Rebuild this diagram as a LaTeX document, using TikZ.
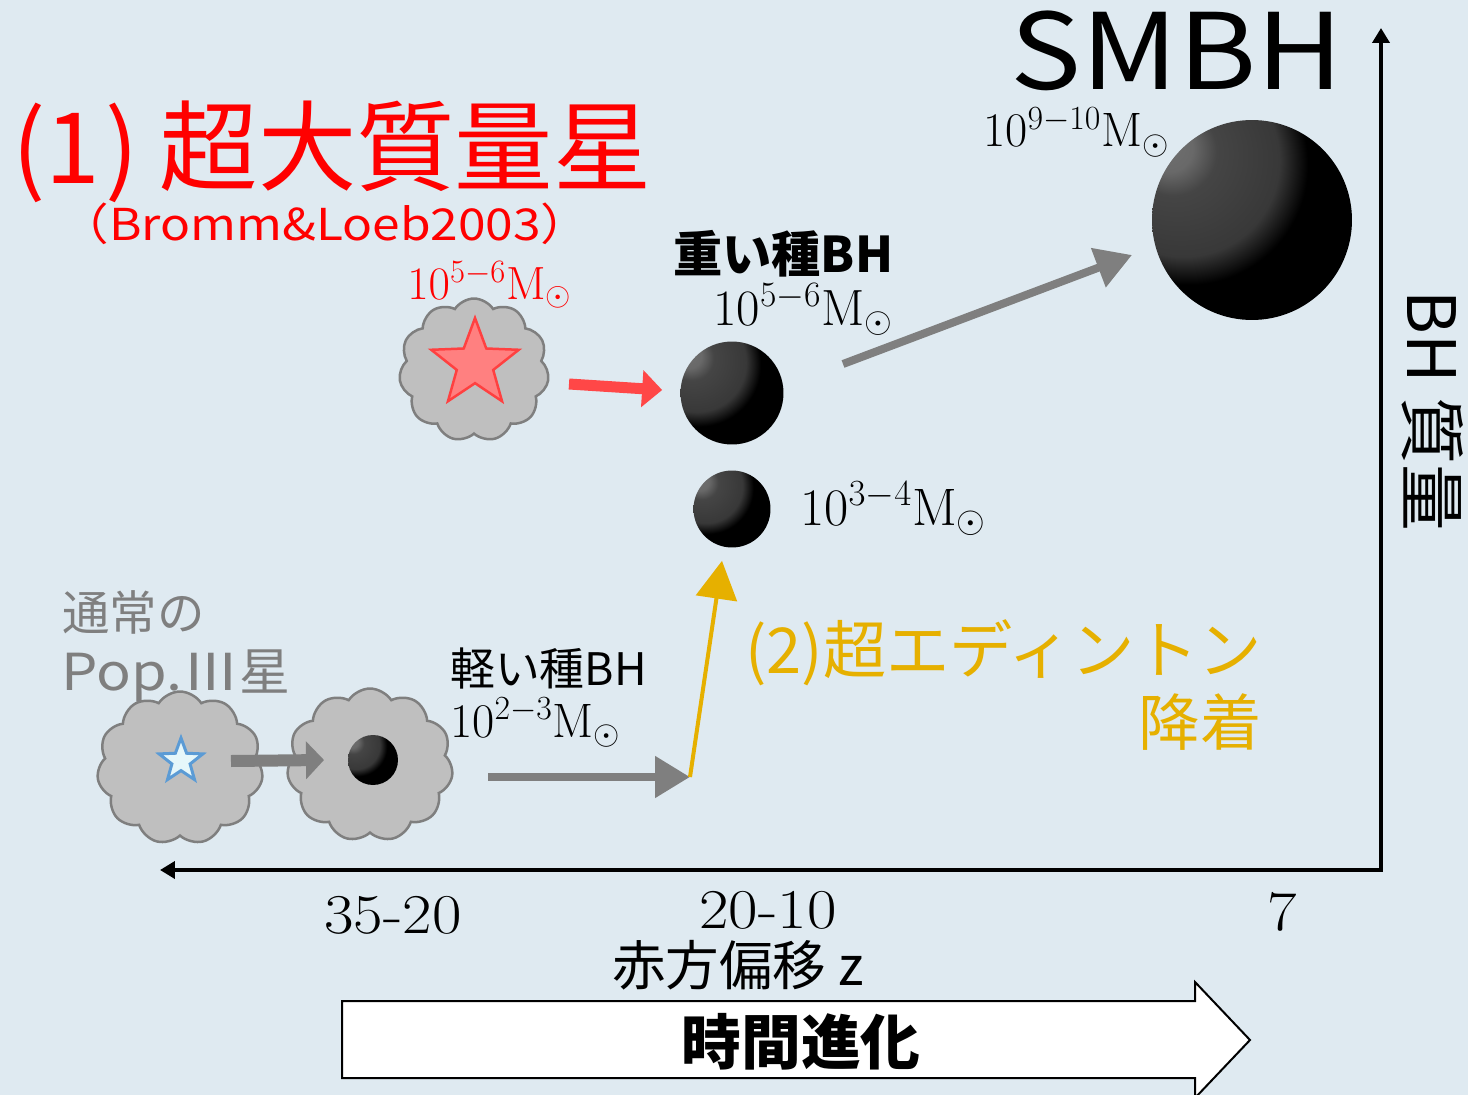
\RequirePackage{fix-cm}
\documentclass[tikz,border=0pt]{standalone}
\usepackage{fontspec}
\newfontfamily\jp{Noto Sans CJK JP}
\newfontfamily\jpw[FakeStretch=1.13]{Noto Sans CJK JP}
\newfontfamily\zfont[FakeStretch=1.14]{Latin Modern Roman}
\usetikzlibrary{calc}
\usetikzlibrary{shapes}
\usetikzlibrary{arrows.meta}

\newcommand\fsz[1]{\fontsize{#1}{#1}\selectfont}

\definecolor{bgblue}{RGB}{223,234,241}
\definecolor{cloudgray}{RGB}{191,191,191}
\definecolor{linegray}{RGB}{127,127,127}
\definecolor{accgold}{RGB}{230,176,0}
\definecolor{starred}{RGB}{255,128,128}
\definecolor{starline}{RGB}{255,64,64}
\definecolor{arrowred}{RGB}{255,71,71}
\definecolor{starblue}{RGB}{91,155,213}
\definecolor{starfill}{RGB}{230,247,250}

% black hole: dark ball, soft grey spot up left
\pgfdeclareradialshading{bhball}{\pgfpoint{-22bp}{19bp}}{%
  color(0bp)=(black!56); color(6bp)=(black!59); color(11bp)=(black!73);
  color(24bp)=(black!78); color(30bp)=(black); color(110bp)=(black)}

\tikzset{
  gascloud/.style={shape=cloud, cloud puffs=11, cloud puff arc=115, aspect=1.05,
    fill=cloudgray, draw=linegray, line width=0.05cm, inner sep=0,
    minimum width=3.32cm, minimum height=3.06cm},
  seedbh/.style={circle, inner sep=0, shade, shading=bhball},
  lbl/.style={inner sep=0},
  axis/.style={line width=0.08cm,
    {Triangle[length=0.3cm,width=0.34cm]}-{Triangle[length=0.3cm,width=0.34cm]}},
  grayarrow/.style={draw=linegray, line width=0.16cm,
    -{Triangle[length=0.72cm,width=0.8cm]}},
}

\begin{document}
\begin{tikzpicture}[x=0.02cm, y=-0.02cm]
\useasboundingbox (0,0) rectangle (1468,1095);
\fill[bgblue] (0,0) rectangle (1468,1095);

% axes: redshift to the left, mass up
\coordinate (origin) at (1381,870);
\coordinate (zend) at (160,870);
\coordinate (mend) at (1381,28);
\draw[axis] (zend) -- (origin) -- (mend);

% gas clouds
\node[gascloud] (cloudA) at (180,768) {};
\node[gascloud] (cloudB) at (370,765) {};
\node[gascloud, minimum width=3cm, minimum height=2.86cm] (cloudR) at (474,370) {};

% stars
\node[star, star points=5, star point ratio=2.4, minimum size=1.84cm, inner sep=0,
      fill=starred, draw=starline, line width=0.05cm] (starR) at (475,364) {};
\node[star, star points=5, star point ratio=2.4, minimum size=0.92cm, inner sep=0,
      fill=starfill, draw=starblue, line width=0.06cm] (starA) at (181,761) {};

% black holes
\node[seedbh, minimum size=1cm] (bhL) at (373,760) {};
\node[seedbh, minimum size=2.06cm] (bhH) at (732,393) {};
\node[seedbh, minimum size=1.54cm] (bhM) at (732,509) {};
\node[seedbh, minimum size=4cm] (smbh) at (1252,220) {};

% growth paths
\coordinate (turn) at (690,777);
\draw[draw=linegray, line width=0.24cm, -{Triangle[length=0.36cm,width=0.74cm]}]
  ([xshift=1cm]starA.center) -- ([xshift=-0.98cm]bhL.center);
\draw[grayarrow, -{Triangle[length=0.7cm,width=0.8cm]}] ($(turn)+(-202,0)$) -- (turn);
\draw[draw=accgold, line width=0.08cm, -{Triangle[length=0.76cm,width=0.82cm]}]
  (turn) -- ($(bhM.south)+(-10,13)$);
\draw[draw=arrowred, line width=0.22cm, -{Triangle[length=0.4cm,width=0.72cm]}]
  ($(starR)+(94,20)$) -- ($(bhH.west)+(-18,-3)$);
\draw[grayarrow] ($(bhH)+(111,-29)$) -- ($(smbh)+(-120,35)$);

% labels
\node[lbl, text=red, font=\jp\fsz{56}, anchor=base west] (title) at (12,183) {(1\kern3pt)\kern12pt超大質量星};
\node[lbl, text=red, font=\jpw\fsz{25}, anchor=base] (ref) at (325,240) {（Bromm\&Loeb2003）};
\node[lbl, text=red, font=\fsz{26.5}, anchor=base west] (massR) at (407,299) {$10^{5-6}\mathrm{M}_\odot$};
\node[lbl, text depth=0pt, font=\jp\bfseries\fsz{28}, anchor=base west] (heavy) at (673,272) {重い種BH};
\node[lbl, font=\fsz{29}, anchor=base west] (massH) at (713,325) {$10^{5-6}\mathrm{M}_\odot$};
\node[lbl, font=\fsz{30}, anchor=base west] (massM) at (800,525) {$10^{3-4}\mathrm{M}_\odot$};
\node[lbl, font=\fsz{27.5}, anchor=base west] (massS) at (983,147) {$10^{9-10}\mathrm{M}_\odot$};
\node[lbl, text depth=0pt, font=\jpw\fsz{60}, anchor=base] (smbhtxt) at (1177,90) {SMBH};
\node[lbl, text=linegray, font=\jp\fsz{27}, anchor=base west] (popA) at (62,630) {通常の};
\node[lbl, text=linegray, font=\jp\fsz{29}, anchor=base west] (popB) at (61,690) {{\jpw Pop.Ⅲ}星};
\node[lbl, text depth=0pt, font=\jp\fsz{25.5}, anchor=base west] (light) at (450,685) {軽い種BH};
\node[lbl, font=\fsz{27.5}, anchor=base west] (massL) at (450,737) {$10^{2-3}\mathrm{M}_\odot$};
\node[lbl, text=accgold, font=\jp\fsz{36}, anchor=base east] (superA) at (1262,673) {(2)超エディントン};
\node[lbl, text=accgold, font=\jp\fsz{35}, anchor=base east] (superB) at (1262,745) {降着};
\node[lbl, font=\jp\fsz{38}, rotate=-90, anchor=base west] (mlabel) at (1407,290) {BH 質量};

% redshift ticks
\node[lbl, font=\zfont\fsz{32}, anchor=base] (zA) at (393,933) {35-20};
\node[lbl, font=\zfont\fsz{32}, anchor=base] (zB) at (768,928) {20-10};
\node[lbl, font=\zfont\fsz{32}, anchor=base] (zC) at (1282,930) {7};
\node[lbl, font=\jp\fsz{30.5}, anchor=base] (zlabel) at (738,985) {赤方偏移 z};

% time arrow
\draw[fill=white, line width=0.04cm] (342,1001) -- (1195,1001) -- (1195,982) -- (1250,1040)
  -- (1195,1098) -- (1195,1078) -- (342,1078) -- cycle;
\node[lbl, font=\jp\bfseries\fsz{34}, anchor=base] (time) at (801,1064) {時間進化};
\end{tikzpicture}
\end{document}
